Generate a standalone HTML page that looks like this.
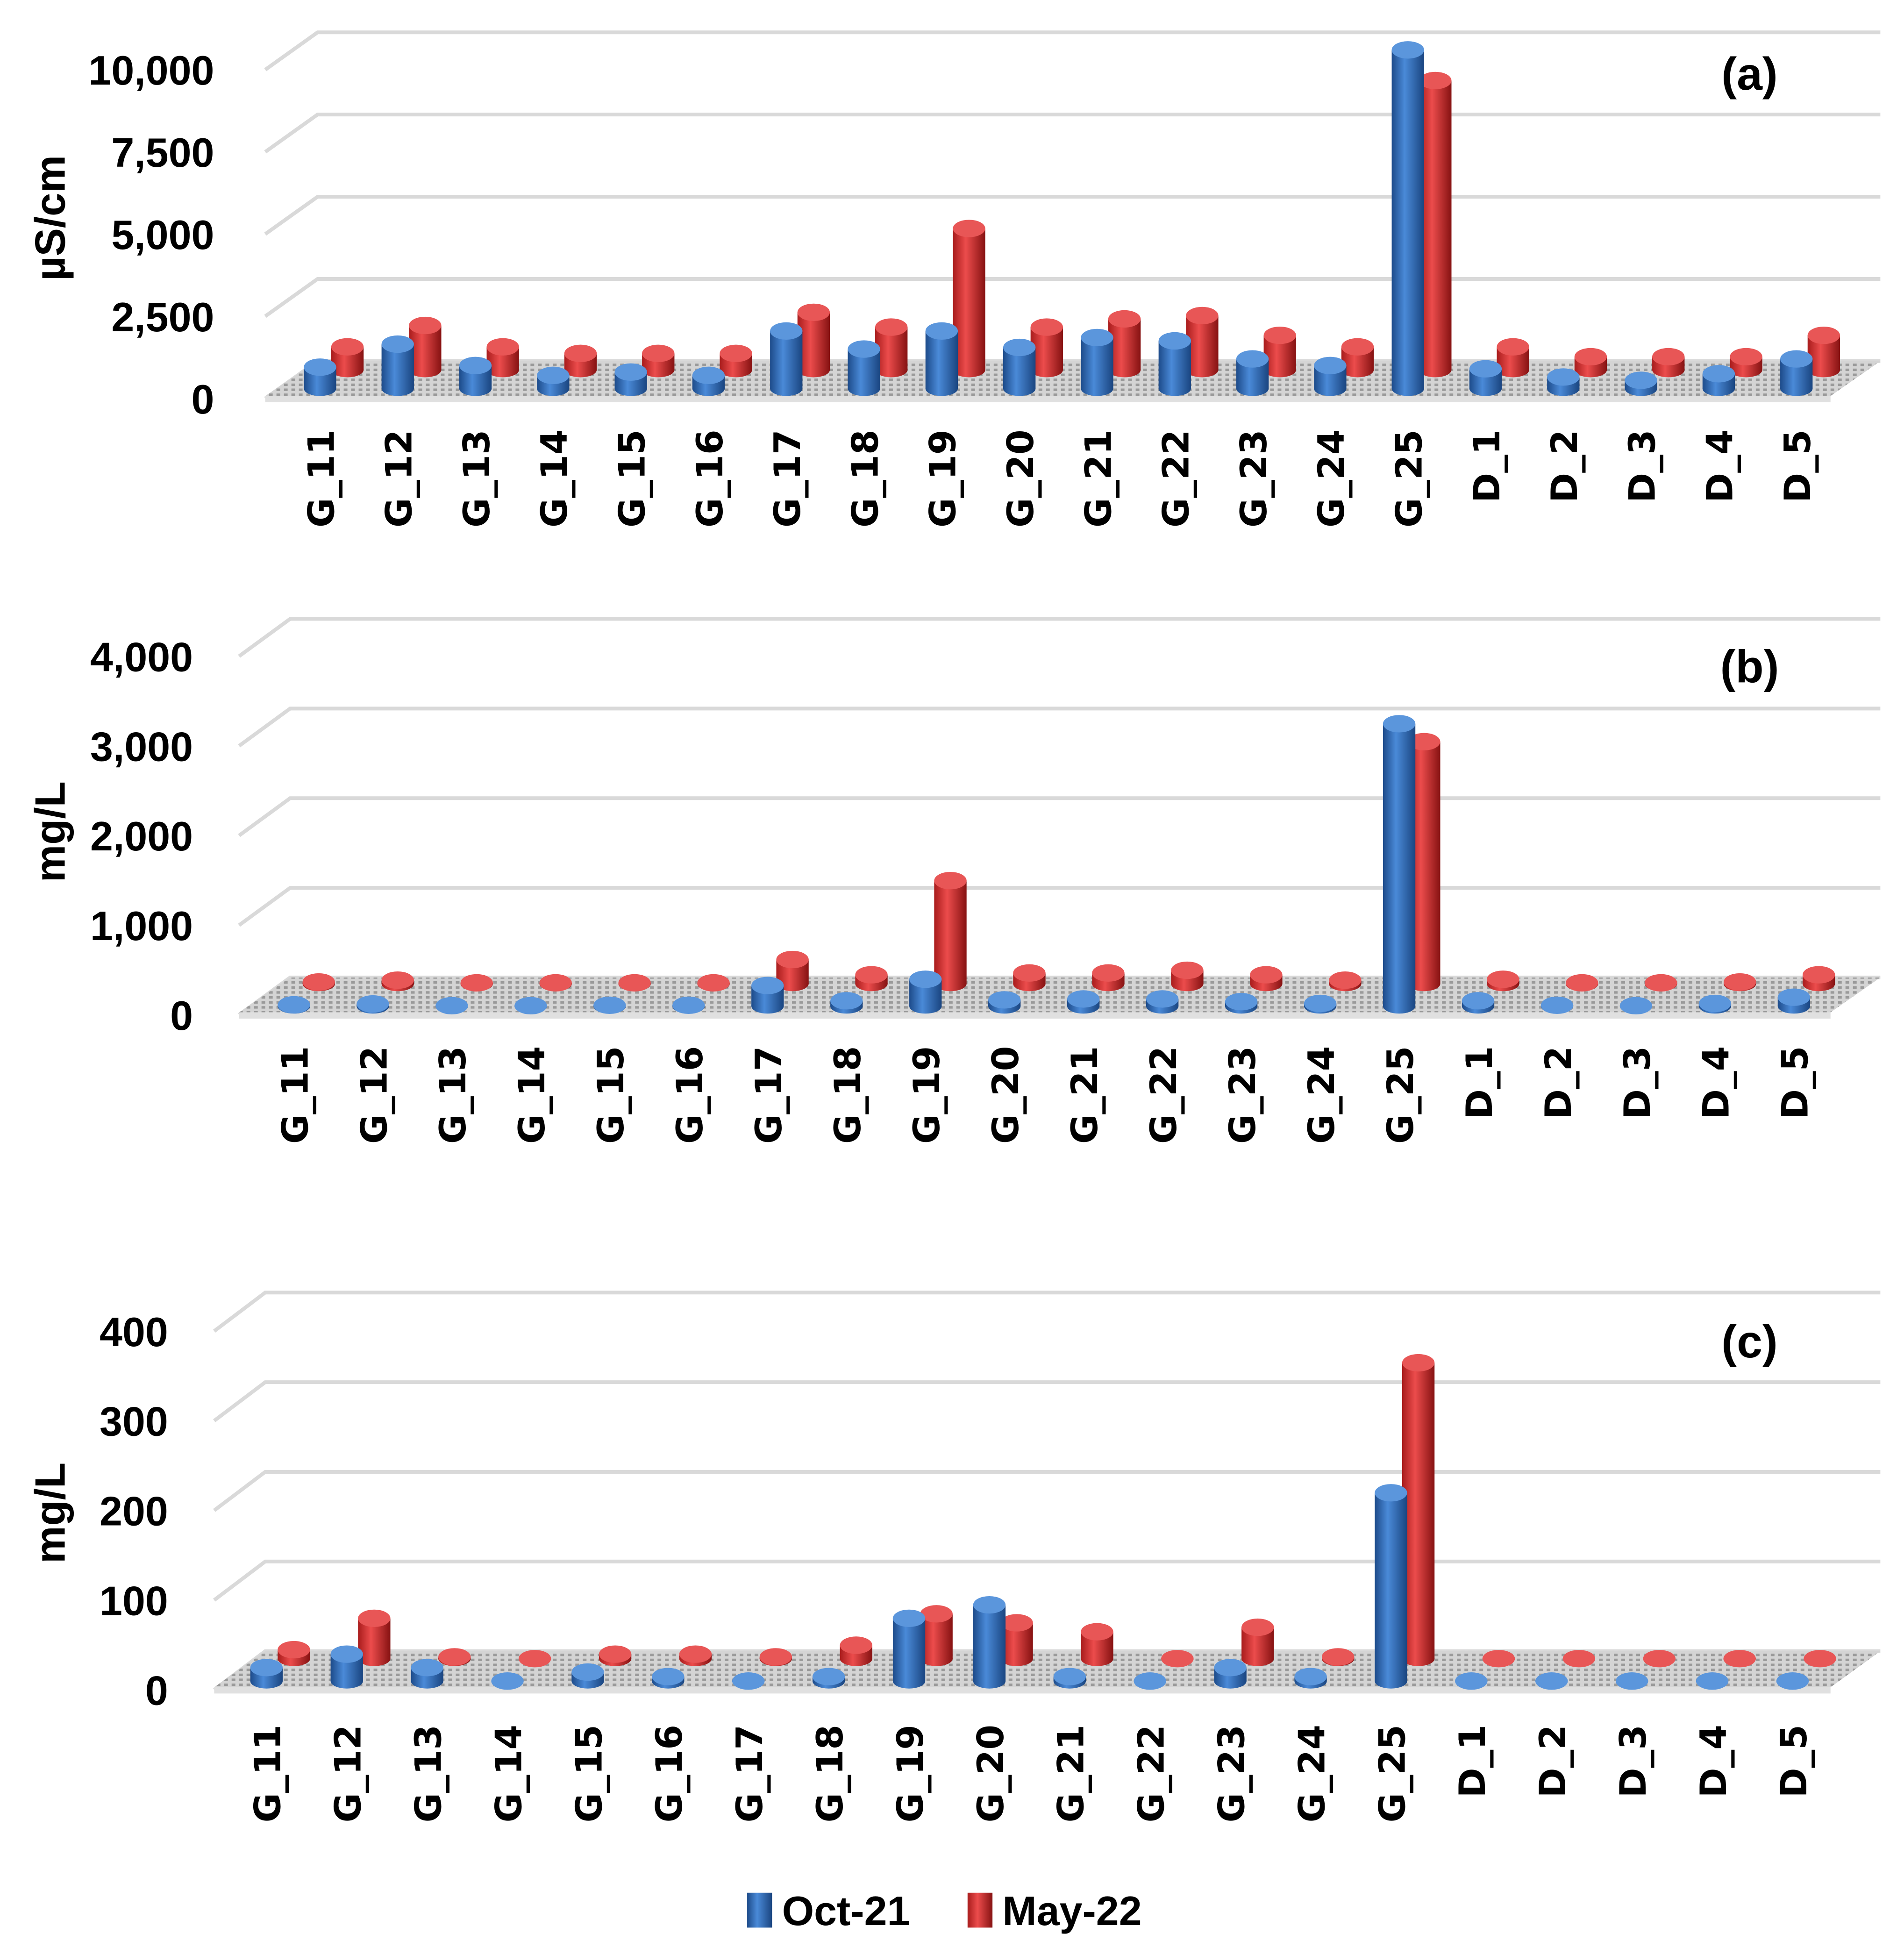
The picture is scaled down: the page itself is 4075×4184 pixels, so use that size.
<!DOCTYPE html>
<html><head><meta charset="utf-8"><style>
html,body{margin:0;padding:0;background:#fff;}
svg{display:block;}
text{font-family:"Liberation Sans",sans-serif;font-weight:bold;fill:#000;}
text.xl{font-family:"DejaVu Sans",sans-serif;}
</style></head><body>
<svg id="chart" width="4075" height="4184" viewBox="0 0 1529 1570" preserveAspectRatio="none" xmlns="http://www.w3.org/2000/svg">
<defs>
<linearGradient id="gb" x1="0" x2="1" y1="0" y2="0"><stop offset="0" stop-color="#1d4b8a"/><stop offset="0.4" stop-color="#4a8ad8"/><stop offset="1" stop-color="#1a4580"/></linearGradient>
<linearGradient id="gr" x1="0" x2="1" y1="0" y2="0"><stop offset="0" stop-color="#a81c1c"/><stop offset="0.4" stop-color="#ec4c4c"/><stop offset="1" stop-color="#861212"/></linearGradient>
<pattern id="fl" width="6" height="4" patternUnits="userSpaceOnUse"><rect width="6" height="4" fill="#d4d4d4"/><rect width="3" height="2" fill="#9a9a9a"/></pattern>
</defs>
</svg>
<script>
const categories = ["G_11","G_12","G_13","G_14","G_15","G_16","G_17","G_18","G_19","G_20","G_21","G_22","G_23","G_24","G_25","D_1","D_2","D_3","D_4","D_5"];
const aOct = [650,1350,700,400,500,400,1750,1200,1750,1250,1550,1450,900,700,10300,600,350,250,450,900];
const aMay = [700,1350,700,500,500,500,1750,1300,4300,1300,1550,1650,1050,700,8800,700,400,400,400,1050];
const aTicks = ["0","2,500","5,000","7,500","10,000"];
const aTickVals = [0,2500,5000,7500,10000];
const bOct = [15,25,5,5,10,10,230,60,300,70,80,80,50,30,3150,60,10,5,30,100];
const bMay = [20,40,10,10,10,10,270,100,1150,120,120,150,100,40,2700,50,10,10,20,100];
const bTicks = ["0","1,000","2,000","3,000","4,000"];
const bTickVals = [0,1000,2000,3000,4000];
const cOct = [15,30,15,0,10,5,0,5,70,85,5,0,15,5,210,0,0,0,0,0];
const cMay = [10,45,2,0,5,5,2,15,50,40,30,0,35,2,330,0,0,0,0,0];
const cTicks = ["0","100","200","300","400"];
const cTickVals = [0,100,200,300,400];

const NS="http://www.w3.org/2000/svg";
const svg=document.getElementById('chart');
function mk(tag,attrs,parent){const e=document.createElementNS(NS,tag);for(const k in attrs)e.setAttribute(k,attrs[k]);(parent||svg).appendChild(e);return e;}

function panel(p,oct,may,ticks,tickVals){
  const g=mk('g',{});
  
  
  const yFront=v=>p.front0-v*p.k;
  const yBack=v=>p.back0-v*p.k;
  tickVals.forEach((v,i)=>{
    const ln=mk('polyline',{points:`${p.fl},${yFront(v)} ${p.bl},${yBack(v)} ${p.right},${yBack(v)}`,fill:'none',stroke:'#d9d9d9','stroke-width':3},g);
    
    
    const t=mk('text',{x:p.tickX,y:yFront(v)+12,'text-anchor':'end','font-size':33},g);
    t.textContent=ticks[i];
    
    
  });
  const fl=mk('polygon',{points:`${p.fl},${p.front0-2} ${p.bl},${p.back0} ${p.right},${p.back0} ${p.right-40},${p.front0-2}`,fill:'url(#fl)'},g);
  
  
  const fe=mk('rect',{x:p.fl,y:p.front0-2,width:p.right-40-p.fl,height:5,fill:'#e0e0e0'},g);
  
  
  function bar(cx,base,v,grad,top,name){
    const h=Math.max(v*p.k,0);
    const gg=mk('g',{},g);
    
    
    mk('ellipse',{cx:cx,cy:base,rx:13,ry:6,fill:grad},gg);
    mk('rect',{x:cx-13,y:base-h,width:26,height:h,fill:grad},gg);
    mk('ellipse',{cx:cx,cy:base-h,rx:13,ry:7,fill:top},gg);
  }
  categories.forEach((c,i)=>{
    const x=p.x0+i*p.step;
    bar(x+p.rdx,p.rbase,may[i],'url(#gr)','#e85656','bar-may-'+c);
  });
  categories.forEach((c,i)=>{
    const x=p.x0+i*p.step;
    bar(x,p.bbase,oct[i],'url(#gb)','#5b96dc','bar-oct-'+c);
    const t=mk('text',{x:0,y:0,'text-anchor':'end','font-size':29,'class':'xl',transform:`translate(${x+11},${p.labTop}) rotate(-90)`},g);
    t.textContent=c;
    
    
  });
  const yt=mk('text',{x:0,y:0,'text-anchor':'middle','font-size':34,transform:`translate(${p.titleX},${p.titleY}) rotate(-90)`},g);
  yt.textContent=p.title;
  
  
  const pl=mk('text',{x:1405,y:p.letterY,'text-anchor':'middle','font-size':37},g);
  pl.textContent='('+p.id+')';
  
  
}
panel({id:'a',front0:320,back0:290,k:66/2500,fl:213,bl:255,right:1510,x0:257,step:62.4,bbase:312,rbase:297,rdx:22,tickX:172,labTop:345,titleX:52,titleY:175,title:'µS/cm',letterY:72},aOct,aMay,aTicks,aTickVals);
panel({id:'b',front0:815,back0:785,k:72/1000,fl:192,bl:233,right:1510,x0:236,step:63.4,bbase:808,rbase:790,rdx:20,tickX:155,labTop:840,titleX:52,titleY:668,title:'mg/L',letterY:548},bOct,bMay,bTicks,bTickVals);
panel({id:'c',front0:1357,back0:1326,k:0.72,fl:172,bl:213,right:1510,x0:214,step:64.5,bbase:1350,rbase:1332,rdx:22,tickX:135,labTop:1385,titleX:52,titleY:1215,title:'mg/L',letterY:1090},cOct,cMay,cTicks,cTickVals);

const lg=mk('g',{});


const l1=mk('rect',{x:600,y:1520,width:20,height:28,fill:'url(#gb)'},lg);


const t1=mk('text',{x:628,y:1546,'font-size':33},lg);
t1.textContent='Oct-21';


const l2=mk('rect',{x:777,y:1520,width:20,height:28,fill:'url(#gr)'},lg);


const t2=mk('text',{x:805,y:1546,'font-size':33},lg);
t2.textContent='May-22';


</script>
</body></html>
